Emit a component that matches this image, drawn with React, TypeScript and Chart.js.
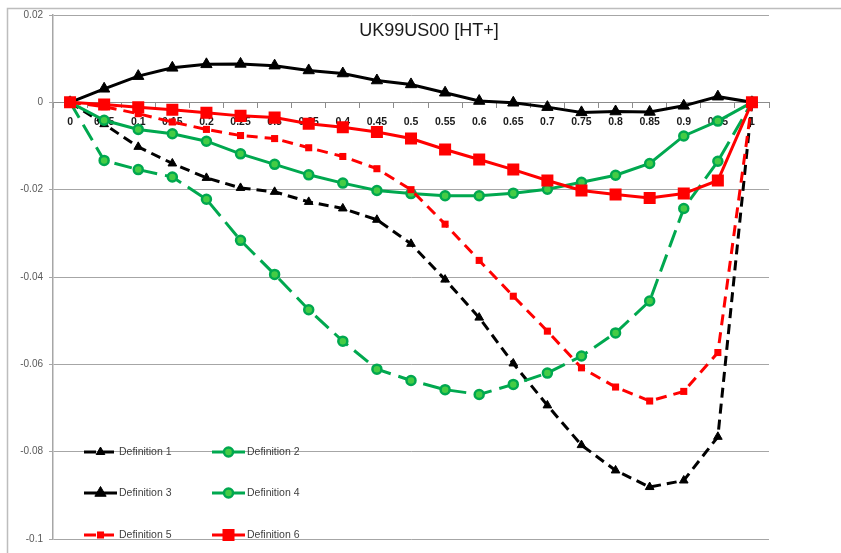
import React, { useEffect, useRef } from 'react';
import { Chart, registerables } from 'chart.js';

Chart.register(...registerables);

const categories = ['0', '0.05', '0.1', '0.15', '0.2', '0.25', '0.3', '0.35', '0.4', '0.45', '0.5', '0.55', '0.6', '0.65', '0.7', '0.75', '0.8', '0.85', '0.9', '0.95', '1'];

const def1 = [0, -0.0050, -0.0102, -0.0140, -0.0173, -0.0196, -0.0205, -0.0228, -0.0243, -0.0269, -0.0324, -0.0406, -0.0493, -0.0598, -0.0694, -0.0785, -0.0843, -0.0881, -0.0866, -0.0766, 0];
const def2 = [0, -0.0133, -0.0154, -0.0171, -0.0222, -0.0316, -0.0394, -0.0475, -0.0547, -0.0611, -0.0637, -0.0658, -0.0669, -0.0646, -0.0620, -0.0581, -0.0528, -0.0455, -0.0243, -0.0135, 0];
const def3 = [0, 0.0031, 0.0060, 0.0079, 0.0087, 0.0088, 0.0084, 0.0073, 0.0066, 0.0050, 0.0041, 0.0022, 0.0003, -0.0001, -0.0011, -0.0023, -0.0021, -0.0022, -0.0008, 0.0013, 0];
const def4 = [0, -0.0041, -0.0062, -0.0072, -0.0089, -0.0118, -0.0142, -0.0166, -0.0185, -0.0202, -0.0209, -0.0214, -0.0214, -0.0208, -0.0199, -0.0183, -0.0167, -0.0140, -0.0077, -0.0043, 0];
const def5 = [0, -0.0010, -0.0026, -0.0045, -0.0062, -0.0076, -0.0083, -0.0104, -0.0124, -0.0152, -0.0200, -0.0279, -0.0362, -0.0444, -0.0524, -0.0608, -0.0652, -0.0684, -0.0662, -0.0573, 0];
const def6 = [0, -0.0005, -0.0011, -0.0017, -0.0024, -0.0031, -0.0035, -0.0049, -0.0057, -0.0068, -0.0083, -0.0108, -0.0131, -0.0154, -0.0179, -0.0202, -0.0211, -0.0219, -0.0209, -0.0179, 0];

const seriesNames = ['Definition 1', 'Definition 2', 'Definition 3', 'Definition 4', 'Definition 5', 'Definition 6'];
const yTicks = [0.02, 0, -0.02, -0.04, -0.06, -0.08, -0.1];
const titleText = 'UK99US00 [HT+]';

const FONT = "'Liberation Sans', Arial, sans-serif";
const GREEN = '#00A84F';
const GREEN_FILL = '#45CC45';
const RED = '#FF0000';
const BLACK = '#000000';

function fmt(v: number): string {
  const n = Number(v.toFixed(2));
  return n === 0 ? '0' : String(n);
}

function drawMarker(ctx: CanvasRenderingContext2D, style: string, x: number, y: number, r: number, fill: string, stroke: string, bw: number) {
  ctx.save();
  ctx.setLineDash([]);
  ctx.beginPath();
  if (style === 'triangle') {
    for (let k = 0; k < 3; k++) {
      const a = (k * 2 * Math.PI) / 3;
      const px = x + Math.sin(a) * r;
      const py = y - Math.cos(a) * r;
      if (k === 0) ctx.moveTo(px, py);
      else ctx.lineTo(px, py);
    }
    ctx.closePath();
  } else if (style === 'rect') {
    const h = r * Math.SQRT1_2;
    ctx.rect(x - h, y - h, 2 * h, 2 * h);
  } else {
    ctx.arc(x, y, r, 0, Math.PI * 2);
  }
  ctx.fillStyle = fill;
  ctx.fill();
  if (bw > 0) {
    ctx.lineWidth = bw;
    ctx.strokeStyle = stroke;
    ctx.stroke();
  }
  ctx.restore();
}

const LEG_X = [84, 212];
const LEG_Y = [452, 493, 535];
const LEG_LEN = 33;

const framePlugin = {
  id: 'frame',
  beforeDraw(chart: any) {
    const ctx = chart.ctx as CanvasRenderingContext2D;
    ctx.save();
    ctx.fillStyle = '#ffffff';
    ctx.fillRect(0, 0, chart.width, chart.height);
    ctx.strokeStyle = '#bdbdbd';
    ctx.lineWidth = 1.5;
    ctx.beginPath();
    ctx.moveTo(7.5, chart.height + 5);
    ctx.lineTo(7.5, 8.5);
    ctx.lineTo(chart.width + 5, 8.5);
    ctx.stroke();
    ctx.restore();
  },
};

const overlayPlugin = {
  id: 'overlay',
  afterDraw(chart: any) {
    const ctx = chart.ctx as CanvasRenderingContext2D;
    ctx.save();
    ctx.font = `18px ${FONT}`;
    ctx.fillStyle = '#1a1a1a';
    ctx.textAlign = 'center';
    ctx.textBaseline = 'middle';
    ctx.fillText(titleText, 429, 31);

    chart.data.datasets.forEach((ds: any, i: number) => {
      const col = i % 2;
      const row = Math.floor(i / 2);
      const x0 = LEG_X[col];
      const y = LEG_Y[row];
      ctx.save();
      ctx.strokeStyle = ds.borderColor;
      ctx.lineWidth = ds.borderWidth;
      ctx.setLineDash(ds.legendDash || []);
      ctx.beginPath();
      ctx.moveTo(x0, y);
      ctx.lineTo(x0 + LEG_LEN, y);
      ctx.stroke();
      ctx.restore();
      drawMarker(ctx, ds.pointStyle, x0 + LEG_LEN / 2, y, ds.pointRadius, ds.pointBackgroundColor, ds.pointBorderColor, ds.pointBorderWidth);
      ctx.font = `10.5px ${FONT}`;
      ctx.fillStyle = '#404040';
      ctx.textAlign = 'left';
      ctx.textBaseline = 'middle';
      ctx.fillText(ds.label, x0 + LEG_LEN + 2, y);
    });
    ctx.restore();
  },
};

export default function App() {
  const canvasRef = useRef<HTMLCanvasElement | null>(null);

  useEffect(() => {
    if (!canvasRef.current) return;
    const mk = (i: number, data: number[], color: string, dash: number[], legendDash: number[], style: string, r: number, fill: string, bw: number) => ({
      label: seriesNames[i],
      data,
      borderColor: color,
      backgroundColor: color,
      borderWidth: 3,
      borderDash: dash,
      legendDash,
      tension: 0,
      fill: false,
      pointStyle: style,
      pointRadius: r,
      pointBackgroundColor: fill,
      pointBorderColor: color,
      pointBorderWidth: bw,
      order: 5 - i,
    });

    const chart = new Chart(canvasRef.current, {
      type: 'line',
      data: {
        labels: categories,
        datasets: [
          mk(0, def1, BLACK, [10, 6], [12, 6], 'triangle', 5, BLACK, 1),
          mk(1, def2, GREEN, [18, 8], [], 'circle', 4.5, GREEN_FILL, 2.5),
          mk(2, def3, BLACK, [], [], 'triangle', 6.5, BLACK, 1),
          mk(3, def4, GREEN, [], [], 'circle', 4.5, GREEN_FILL, 2.5),
          mk(4, def5, RED, [11, 7], [12, 6], 'rect', 5, RED, 0),
          mk(5, def6, RED, [], [], 'rect', 8.5, RED, 0),
        ] as any,
      },
      options: {
        animation: false,
        responsive: true,
        maintainAspectRatio: false,
        events: [],
        layout: { padding: { left: 8, right: 72, top: 15, bottom: 14 } },
        plugins: {
          legend: { display: false },
          title: { display: false },
          tooltip: { enabled: false },
        },
        scales: {
          x: {
            type: 'category',
            position: { y: 0 } as any,
            offset: true,
            grid: { drawOnChartArea: false, offset: true, tickLength: 5, color: '#8c8c8c', lineWidth: 1 },
            border: { color: '#8c8c8c', width: 1 },
            ticks: {
              color: '#1a1a1a',
              font: { family: FONT, size: 10.5, weight: 'bold' },
              padding: 8,
              maxRotation: 0,
              autoSkip: false,
            },
          },
          y: {
            type: 'linear',
            min: -0.1,
            max: 0.02,
            afterBuildTicks: (s: any) => {
              s.ticks = yTicks.map((v) => ({ value: v }));
            },
            afterFit: (s: any) => {
              s.width = 45;
            },
            ticks: {
              callback: (v: any) => fmt(Number(v)),
              color: '#595959',
              font: { family: FONT, size: 10 },
              padding: 6,
            },
            grid: { color: '#a6a6a6', lineWidth: 1, tickLength: 4 },
            border: { color: '#a6a6a6', width: 1.5 },
          },
        },
      },
      plugins: [framePlugin, overlayPlugin],
    });
    return () => chart.destroy();
  }, []);

  return (
    <div style={{ position: 'absolute', left: 0, top: 0, width: 841, height: 553 }}>
      <canvas ref={canvasRef} />
    </div>
  );
}
